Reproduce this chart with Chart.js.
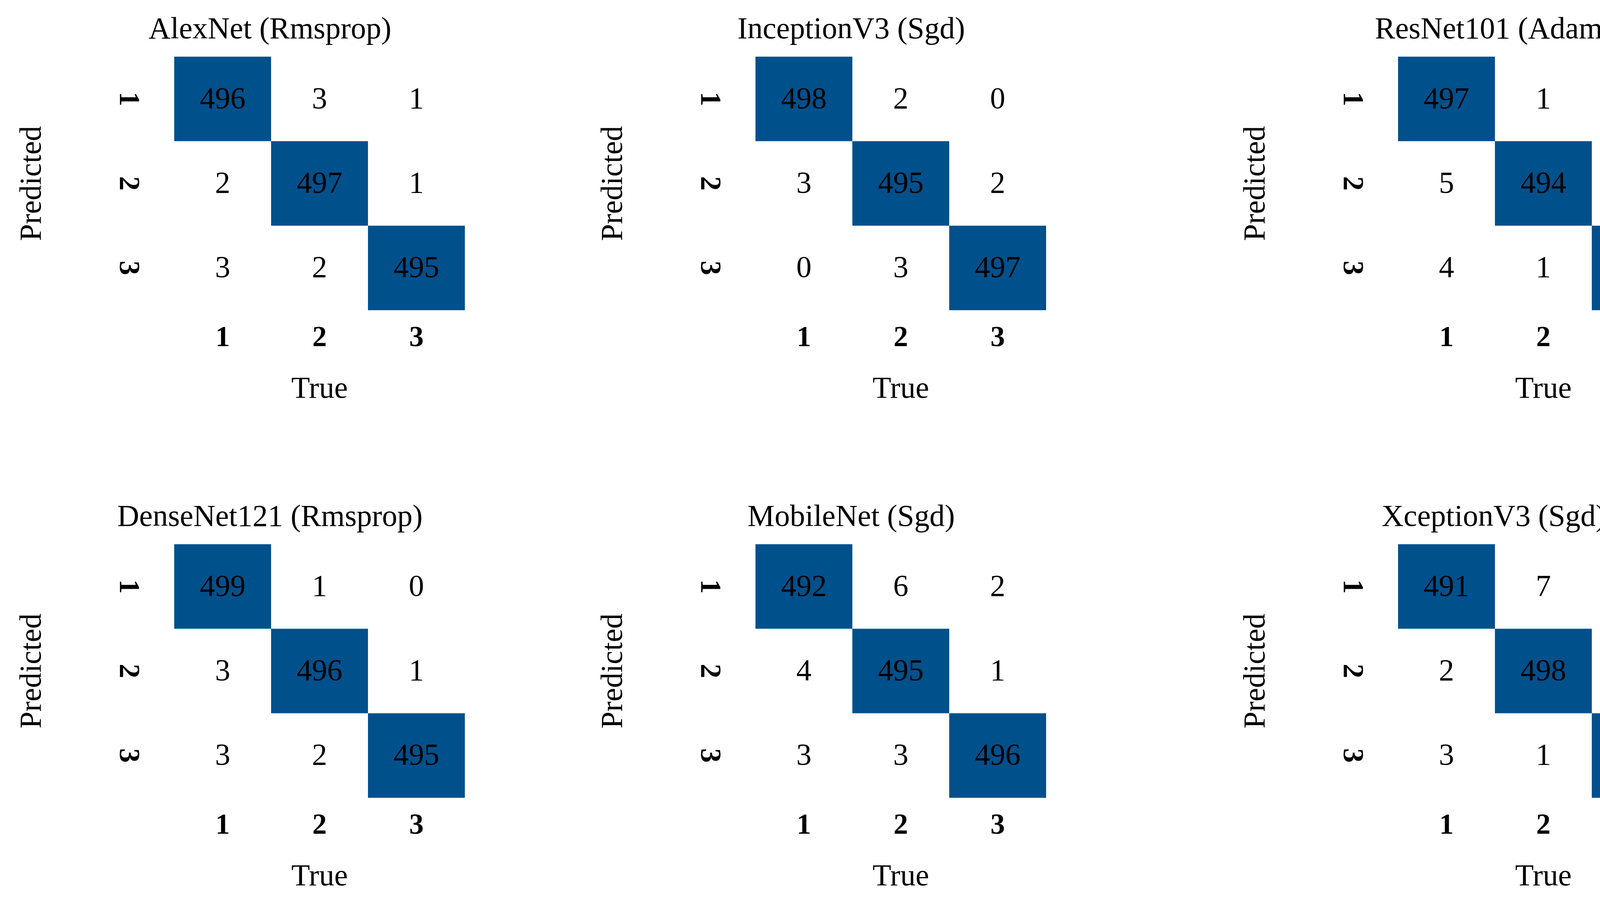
<!DOCTYPE html>
<html><head><meta charset="utf-8">
<script src="https://cdn.jsdelivr.net/npm/chart.js@4/dist/chart.umd.min.js"></script>
<style>body{margin:0;background:#fff;width:4370px;height:2319px;position:relative;overflow:hidden}
.c{position:absolute}</style></head><body>
<script>
const classLabels = ['1','2','3'];
const titles = ['AlexNet (Rmsprop)','InceptionV3 (Sgd)','ResNet101 (Adam)','DenseNet121 (Rmsprop)','MobileNet (Sgd)','XceptionV3 (Sgd)'];
// rows = predicted, cols = true
const alexnet    = [[496,3,1],[2,497,1],[3,2,495]];
const inception  = [[498,2,0],[3,495,2],[0,3,497]];
const resnet     = [[497,1,2],[5,494,1],[4,1,495]];
const densenet   = [[499,1,0],[3,496,1],[3,2,495]];
const mobilenet  = [[492,6,2],[4,495,1],[3,3,496]];
const xception   = [[491,7,1],[2,498,0],[3,1,496]];
const matrices = [alexnet,inception,resnet,densenet,mobilenet,xception];
const positions = [[0,0],[1488,0],[3133,0],[0,1248],[1488,1248],[3133,1248]];
const BLUE = '#00508C', FONT = '"Liberation Serif","DejaVu Serif",serif';

const cellPlugin = {
  id:'cells',
  afterDatasetsDraw(chart){
    const ctx = chart.ctx, xs = chart.scales.x, ys = chart.scales.y, a = chart.chartArea;
    const ds = chart.data.datasets[0].data;
    ctx.save();
    ds.forEach(p=>{
      const l = xs.getPixelForValue(p.x-0.5), r = xs.getPixelForValue(p.x+0.5);
      const t = ys.getPixelForValue(p.y-0.5), b = ys.getPixelForValue(p.y+0.5);
      if (p.v > 100){ ctx.fillStyle = BLUE; ctx.fillRect(l,t,r-l,b-t); }
      ctx.fillStyle = '#000'; ctx.font = '78px '+FONT; ctx.textAlign='center'; ctx.textBaseline='middle';
      ctx.fillText(String(p.v),(l+r)/2,(t+b)/2+3);
    });
    ctx.font = 'bold 74px '+FONT;
    classLabels.forEach((lab,i)=>{
      ctx.textAlign='center'; ctx.textBaseline='middle';
      ctx.fillText(lab, xs.getPixelForValue(i), a.bottom+73);
      ctx.save(); ctx.translate(a.left-120, ys.getPixelForValue(i)); ctx.rotate(Math.PI/2);
      ctx.fillText(lab,0,0); ctx.restore();
    });
    ctx.font = '78px '+FONT;
    ctx.fillText(chart.options.plugins.cells.title, a.left+245, a.top-67);
    ctx.fillText('True', (a.left+a.right)/2, a.bottom+204);
    ctx.save(); ctx.translate(a.left-362,(a.top+a.bottom)/2); ctx.rotate(-Math.PI/2);
    ctx.fillText('Predicted',0,0); ctx.restore();
    ctx.restore();
  }
};

matrices.forEach((m,k)=>{
  const cv = document.createElement('canvas');
  cv.className='c'; cv.width=1230; cv.height=1054;
  cv.style.width='1230px'; cv.style.height='1054px';
  cv.style.left=positions[k][0]+'px'; cv.style.top=positions[k][1]+'px';
  document.body.appendChild(cv);
  const pts=[];
  m.forEach((row,r)=>row.forEach((v,c)=>pts.push({x:c,y:r,v})));
  new Chart(cv,{
    type:'scatter',
    data:{datasets:[{data:pts,pointRadius:0}]},
    options:{responsive:false,maintainAspectRatio:false,animation:false,devicePixelRatio:1,
      layout:{padding:{left:446,top:145,right:40,bottom:260}},
      plugins:{legend:{display:false},tooltip:{enabled:false},cells:{title:titles[k]}},
      scales:{x:{type:'linear',min:-0.5,max:2.5,display:false},
              y:{type:'linear',min:-0.5,max:2.5,reverse:true,display:false}}},
    plugins:[cellPlugin]
  });
});
</script></body></html>
